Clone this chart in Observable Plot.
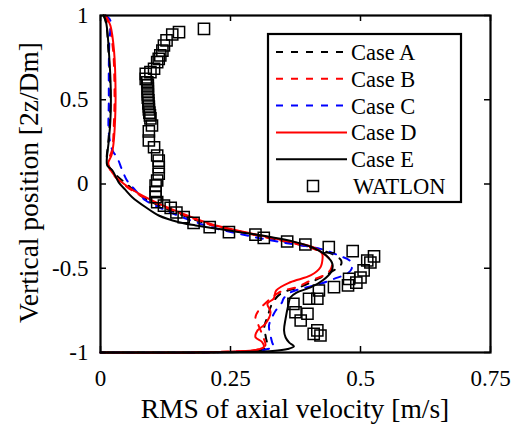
<!DOCTYPE html>
<html>
<head>
<meta charset="utf-8">
<script src="https://cdn.jsdelivr.net/npm/d3@7"></script>
<script src="https://cdn.jsdelivr.net/npm/@observablehq/plot@0.6"></script>
<style>
  html, body { margin: 0; padding: 0; background: #fff; }
  #chart { position: relative; width: 525px; height: 426px; }
  #chart svg, #chart svg text { font-family: "Liberation Serif", "Times New Roman", "DejaVu Serif", serif !important; }
</style>
</head>
<body>
<div id="chart"></div>
<script>
// ---- tick values / labels ----
const xTicks = [0, 0.25, 0.5, 0.75];
const yTicks = [-1, -0.5, 0, 0.5, 1];
const xLabel = "RMS of axial velocity [m/s]";
const yLabel = "Vertical position [2z/Dm]";
const seriesNames = ["Case A", "Case B", "Case C", "Case D", "Case E", "WATLON"];

// ---- series: [rms, position] ----
const caseA = [[0.006,1],[0.011,0.95],[0.015,0.8],[0.019,0.55],[0.018,0.38],[0.015,0.25],[0.012,0.14],[0.015,0.11],[0.028,0.06],[0.05,0.0],[0.085,-0.085],[0.145,-0.17],[0.21,-0.24],[0.28,-0.29],[0.35,-0.338],[0.41,-0.38],[0.445,-0.415],[0.462,-0.45],[0.463,-0.475],[0.45,-0.51],[0.42,-0.56],[0.385,-0.61],[0.346,-0.652],[0.33,-0.711],[0.322,-0.78],[0.315,-0.85],[0.318,-0.91],[0.32,-0.96],[0.31,-0.985],[0.26,-0.995],[0.15,-1],[0,-1]];
const caseB = [[0.008,1],[0.016,0.95],[0.024,0.8],[0.027,0.55],[0.026,0.38],[0.022,0.2],[0.014,0.13],[0.016,0.1],[0.026,0.05],[0.052,-0.02],[0.09,-0.09],[0.15,-0.17],[0.21,-0.24],[0.275,-0.288],[0.345,-0.335],[0.405,-0.38],[0.432,-0.42],[0.445,-0.47],[0.442,-0.51],[0.429,-0.543],[0.404,-0.573],[0.378,-0.612],[0.352,-0.632],[0.34,-0.65],[0.323,-0.69],[0.304,-0.751],[0.298,-0.791],[0.304,-0.84],[0.313,-0.909],[0.317,-0.958],[0.304,-0.982],[0.25,-0.994],[0.15,-1],[0,-1]];
const caseC = [[0.01,1],[0.019,0.97],[0.017,0.852],[0.016,0.691],[0.016,0.496],[0.016,0.3],[0.023,0.199],[0.032,0.157],[0.042,0.08],[0.051,0.021],[0.064,-0.027],[0.087,-0.098],[0.119,-0.147],[0.157,-0.197],[0.215,-0.258],[0.282,-0.306],[0.346,-0.345],[0.423,-0.385],[0.458,-0.424],[0.481,-0.46],[0.483,-0.503],[0.474,-0.533],[0.449,-0.563],[0.423,-0.592],[0.397,-0.613],[0.365,-0.644],[0.352,-0.68],[0.349,-0.703],[0.337,-0.751],[0.33,-0.791],[0.324,-0.84],[0.327,-0.899],[0.33,-0.939],[0.333,-0.969],[0.321,-0.979],[0.308,-0.988],[0.2,-1],[0,-1]];
const caseD = [[0.01,1],[0.019,0.941],[0.026,0.792],[0.029,0.537],[0.028,0.377],[0.025,0.24],[0.021,0.169],[0.015,0.128],[0.017,0.098],[0.027,0.05],[0.054,-0.019],[0.093,-0.088],[0.151,-0.167],[0.215,-0.24],[0.279,-0.286],[0.349,-0.332],[0.41,-0.377],[0.426,-0.412],[0.427,-0.442],[0.423,-0.494],[0.404,-0.543],[0.365,-0.583],[0.338,-0.632],[0.333,-0.68],[0.321,-0.711],[0.327,-0.761],[0.317,-0.83],[0.302,-0.869],[0.298,-0.909],[0.311,-0.939],[0.314,-0.967],[0.298,-0.985],[0.26,-0.994],[0.192,-1],[0,-1]];
const caseE = [[0.006,1],[0.01,0.97],[0.013,0.911],[0.016,0.792],[0.019,0.632],[0.02,0.496],[0.019,0.377],[0.016,0.258],[0.012,0.139],[0.013,0.11],[0.023,0.08],[0.035,0.01],[0.048,-0.035],[0.061,-0.078],[0.087,-0.138],[0.112,-0.187],[0.151,-0.227],[0.183,-0.246],[0.247,-0.276],[0.311,-0.306],[0.375,-0.345],[0.41,-0.38],[0.434,-0.425],[0.446,-0.475],[0.444,-0.519],[0.427,-0.573],[0.404,-0.614],[0.377,-0.644],[0.365,-0.674],[0.361,-0.721],[0.356,-0.798],[0.353,-0.869],[0.356,-0.911],[0.363,-0.941],[0.372,-0.964],[0.36,-0.979],[0.331,-0.991],[0.269,-0.997],[0.192,-1],[0,-1]];

// ---- WATLON measurements ----
const watlon = [[0.199,0.921],[0.151,0.901],[0.138,0.887],[0.127,0.852],[0.122,0.822],[0.119,0.792],[0.115,0.763],[0.112,0.743],[0.109,0.723],[0.103,0.684],[0.096,0.664],[0.087,0.654],[0.087,0.624],
[0.09,0.604],[0.091,0.585],[0.091,0.567],[0.091,0.549],[0.091,0.531],[0.091,0.513],[0.092,0.496],[0.092,0.478],[0.093,0.46],[0.093,0.442],[0.094,0.424],[0.095,0.407],[0.096,0.389],
[0.099,0.347],[0.093,0.312],[0.093,0.258],[0.103,0.218],[0.109,0.169],[0.112,0.139],[0.112,0.1],[0.112,0.061],[0.109,0.021],[0.106,-0.009],[0.106,-0.049],[0.106,-0.078],[0.109,-0.108],
[0.122,-0.128],[0.135,-0.142],[0.146,-0.169],[0.16,-0.197],[0.179,-0.231],[0.21,-0.256],[0.247,-0.286],[0.298,-0.3],[0.314,-0.32],[0.359,-0.341],[0.394,-0.359],[0.439,-0.375],[0.485,-0.398],
[0.526,-0.43],[0.519,-0.466],[0.513,-0.454],[0.506,-0.513],[0.5,-0.555],[0.492,-0.585],[0.478,-0.563],[0.476,-0.602],[0.449,-0.612],[0.42,-0.632],[0.417,-0.681],[0.401,-0.681],[0.371,-0.711],[0.375,-0.761],[0.398,-0.77],[0.385,-0.81],[0.417,-0.869],[0.423,-0.899],[0.41,-0.889]];

const W = 525, H = 426;
const mL = 100, mR = 35, mT = 15, mB = 74;
const fW = W - mL - mR, fH = H - mT - mB;
const tickLen = 6;

const lineStyles = [
  {data: caseA, stroke: "#000000", dash: "7,8"},
  {data: caseB, stroke: "#ff0000", dash: "7,8"},
  {data: caseC, stroke: "#0000ff", dash: "7,8"},
  {data: caseD, stroke: "#ff0000", dash: null},
  {data: caseE, stroke: "#000000", dash: null}
];

const fx = d => d[0], fy = d => d[1];

const plot = Plot.plot({
  width: W, height: H,
  marginLeft: mL, marginRight: mR, marginTop: mT, marginBottom: mB,
  style: {fontSize: "23px", background: "#fff", color: "#000"},
  x: {domain: [0, 0.75], ticks: xTicks, tickSize: 0, tickPadding: 17, tickFormat: d => String(d), label: null},
  y: {domain: [-1, 1], ticks: yTicks, tickSize: 0, tickPadding: 12, tickFormat: d => String(d), label: null},
  marks: [
    ...lineStyles.map(s => Plot.line(s.data, {x: fx, y: fy, stroke: s.stroke, strokeWidth: 2, strokeDasharray: s.dash, curve: "catmull-rom"})),
    Plot.dot(watlon, {x: fx, y: fy, symbol: "square", r: 6.3, stroke: "#000", strokeWidth: 1.5, fill: "none"}),
    Plot.tickX(xTicks, {x: d => d, stroke: "#000", strokeWidth: 1.5, insetTop: fH - tickLen}),
    Plot.tickX(xTicks, {x: d => d, stroke: "#000", strokeWidth: 1.5, insetBottom: fH - tickLen}),
    Plot.tickY(yTicks, {y: d => d, stroke: "#000", strokeWidth: 1.5, insetRight: fW - tickLen}),
    Plot.tickY(yTicks, {y: d => d, stroke: "#000", strokeWidth: 1.5, insetLeft: fW - tickLen}),
    Plot.frame({stroke: "#000", strokeWidth: 2.2})
  ]
});

document.getElementById("chart").appendChild(plot);

// ---- axis titles and legend (annotation layer) ----
const svg = d3.select(plot);
svg.append("text")
  .attr("x", mL + fW / 2).attr("y", 418)
  .attr("text-anchor", "middle")
  .attr("fill", "#000")
  .style("font-size", "27.5px")
  .text(xLabel);
svg.append("text")
  .attr("transform", `translate(38, ${mT + fH / 2 - 1}) rotate(-90)`)
  .attr("text-anchor", "middle")
  .attr("fill", "#000")
  .style("font-size", "27.5px")
  .text(yLabel);

const lg = svg.append("g");
lg.append("rect").attr("x", 268).attr("y", 34).attr("width", 193).attr("height", 168)
  .attr("fill", "#fff").attr("stroke", "#000").attr("stroke-width", 2.2);
const rowY0 = 52, rowStep = 26.8;
lineStyles.forEach((s, i) => {
  const yy = rowY0 + i * rowStep;
  lg.append("line").attr("x1", 276).attr("x2", 347).attr("y1", yy).attr("y2", yy)
    .attr("stroke", s.stroke).attr("stroke-width", 2)
    .attr("stroke-dasharray", s.dash);
});
{
  const yy = rowY0 + 5 * rowStep;
  lg.append("rect").attr("x", 313 - 5.5).attr("y", yy - 5.5).attr("width", 11).attr("height", 11)
    .attr("fill", "none").attr("stroke", "#000").attr("stroke-width", 1.5);
}
seriesNames.forEach((n, i) => {
  const yy = rowY0 + i * rowStep;
  lg.append("text").attr("x", n === "WATLON" ? 353 : 351).attr("y", yy + 8)
    .attr("text-anchor", "start")
    .attr("fill", "#000")
    .style("font-size", "22.5px")
    .text(n);
});
</script>
</body>
</html>
